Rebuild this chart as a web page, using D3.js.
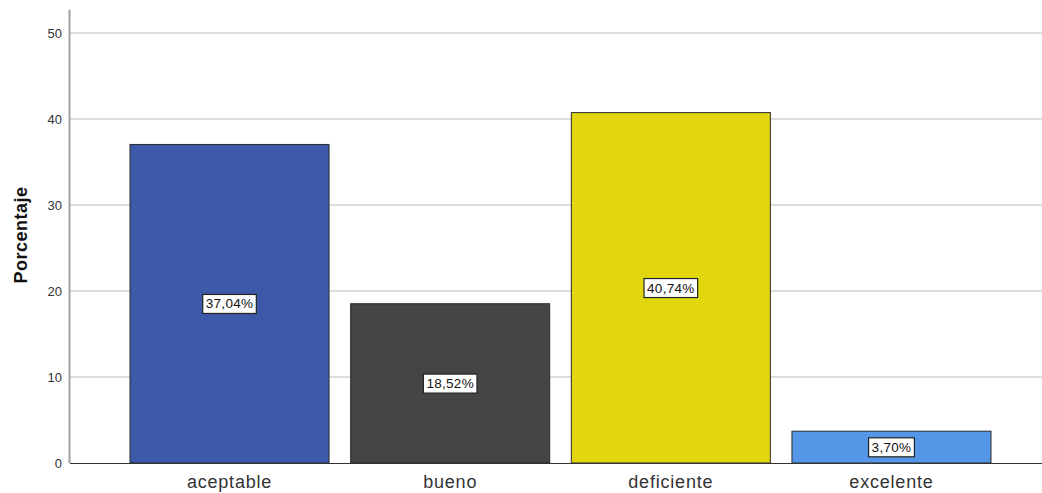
<!DOCTYPE html>
<html>
<head>
<meta charset="utf-8">
<script src="https://cdn.jsdelivr.net/npm/d3@7"></script>
<style>
html,body{margin:0;padding:0;background:#fff;}
svg{display:block;font-family:"Liberation Sans",Arial,sans-serif;}
</style>
</head>
<body>
<svg id="chart" width="1042" height="493"></svg>
<script>
const categories = ["aceptable", "bueno", "deficiente", "excelente"];
const values = [37.04, 18.52, 40.74, 3.70];
const valueLabels = ["37,04%", "18,52%", "40,74%", "3,70%"];
const colors = ["#3d59a9", "#444547", "#e2d70f", "#5597e6"];
const yTicks = [0, 10, 20, 30, 40, 50];
const yTitle = "Porcentaje";

const svg = d3.select("#chart");
const W = 1042;
const x = d3.scaleBand().domain(categories).range([70, 1051]).paddingInner(0.098).paddingOuter(0.272);
const y = d3.scaleLinear().domain([0, 50]).range([463, 33]);

// gridlines
svg.append("g").selectAll("line").data(yTicks.filter(d => d > 0)).join("line")
  .attr("x1", 70).attr("x2", W)
  .attr("y1", d => y(d)).attr("y2", d => y(d))
  .attr("stroke", "#d2d2d2").attr("stroke-width", 1.5);

// y axis
const yAxis = d3.axisLeft(y).tickValues(yTicks).tickSize(0).tickPadding(8).tickFormat(d3.format("d"));
const ga = svg.append("g").attr("transform", "translate(70,0)").call(yAxis);
ga.select(".domain").remove();
ga.selectAll("text").attr("font-size", 13).attr("fill", "#333").attr("font-family", "Liberation Sans, Arial, sans-serif");
svg.append("line").attr("x1", 69.5).attr("x2", 69.5).attr("y1", y(52.7)).attr("y2", y(0))
  .attr("stroke", "#a0a0a0").attr("stroke-width", 2);

// bars
svg.append("g").selectAll("rect").data(categories).join("rect")
  .attr("x", d => x(d)).attr("width", x.bandwidth())
  .attr("y", (d, i) => y(values[i])).attr("height", (d, i) => y(0) - y(values[i]))
  .attr("fill", (d, i) => colors[i]).attr("stroke", "#2a2a2a").attr("stroke-width", 1);

// baseline
svg.append("line").attr("x1", 70).attr("x2", W).attr("y1", y(0) + 0.5).attr("y2", y(0) + 0.5)
  .attr("stroke", "#333").attr("stroke-width", 1);

// x labels
svg.append("g").selectAll("text").data(categories).join("text")
  .attr("x", d => x(d) + x.bandwidth() / 2).attr("y", 488)
  .attr("text-anchor", "middle").attr("font-size", 18).attr("letter-spacing", 0.8)
  .attr("fill", "#333").text(d => d);

// value labels
const lg = svg.append("g").selectAll("g").data(categories).join("g")
  .attr("transform", (d, i) => `translate(${x(d) + x.bandwidth() / 2},${(y(values[i]) + y(0)) / 2})`);
lg.each(function(d, i) {
  const g = d3.select(this);
  const t = g.append("text").attr("text-anchor", "middle").attr("dy", "0.35em")
    .attr("font-size", 13.5).attr("letter-spacing", 0.3).attr("fill", "#111").text(valueLabels[i]);
  const bb = t.node().getBBox();
  g.insert("rect", "text").attr("x", bb.x - 3).attr("y", bb.y - 2)
    .attr("width", bb.width + 6).attr("height", bb.height + 4)
    .attr("fill", "#fff").attr("stroke", "#222").attr("stroke-width", 1.2);
});

// y title
svg.append("text").attr("transform", `translate(27,${y(26.5)}) rotate(-90)`)
  .attr("text-anchor", "middle").attr("font-size", 18).attr("letter-spacing", 0.5)
  .attr("font-weight", "bold").attr("fill", "#111")
  .text(yTitle);
</script>
</body>
</html>
